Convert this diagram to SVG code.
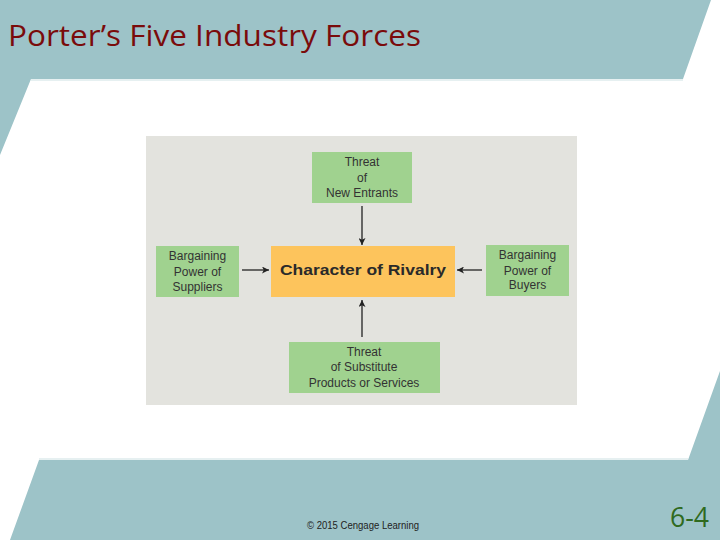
<svg xmlns="http://www.w3.org/2000/svg" width="720" height="540" viewBox="0 0 720 540">
<style>
.band{fill:#9dc3c8}
.node{fill:#a0d28f}
.lbl{font-family:"Liberation Sans",Arial,sans-serif;font-size:12px;fill:#333333;text-anchor:middle}
.conn{stroke:#222222;stroke-width:1.3;fill:none}
</style>
<defs>
<marker id="ah" viewBox="0 0 10 10" refX="10" refY="5" markerWidth="7" markerHeight="7" markerUnits="userSpaceOnUse" orient="auto">
<path d="M0,0 L10,5 L0,10 L2.5,5 z" fill="#222222"/>
</marker>
</defs>
<rect x="0" y="0" width="720" height="540" fill="#ffffff"/>
<polygon class="band" points="0,0 711,0 683,79 31,79 0,155"/>
<line x1="31" y1="80" x2="683" y2="80" stroke="#e6f0f1" stroke-width="2"/>
<polygon class="band" points="720,371 688,460 39,460 10,540 720,540"/>
<line x1="39" y1="459" x2="688" y2="459" stroke="#e6f0f1" stroke-width="2"/>
<text x="8" y="46" font-family="'Open Sans','Noto Sans',sans-serif" font-size="29" fill="#7a0b0b" textLength="413" lengthAdjust="spacingAndGlyphs">Porter’s Five Industry Forces</text>
<rect x="146" y="136" width="431" height="269" fill="#e3e3de"/>
<g id="new-entrants">
<rect class="node" x="312" y="152" width="100" height="51"/>
<text class="lbl" x="362" y="166">Threat</text>
<text class="lbl" x="362" y="181.5">of</text>
<text class="lbl" x="362" y="197">New Entrants</text>
</g>
<g id="suppliers">
<rect class="node" x="156" y="246" width="83" height="51"/>
<text class="lbl" x="197.5" y="260">Bargaining</text>
<text class="lbl" x="197.5" y="275.5">Power of</text>
<text class="lbl" x="197.5" y="291">Suppliers</text>
</g>
<g id="rivalry">
<rect x="271" y="246" width="184" height="51" fill="#fdc45c"/>
<text x="363" y="275" font-family="'Liberation Sans',Arial,sans-serif" font-size="15" font-weight="bold" fill="#2a2a2a" text-anchor="middle" textLength="166" lengthAdjust="spacingAndGlyphs">Character of Rivalry</text>
</g>
<g id="buyers">
<rect class="node" x="486" y="245" width="83" height="51"/>
<text class="lbl" x="527.5" y="259">Bargaining</text>
<text class="lbl" x="527.5" y="274.5">Power of</text>
<text class="lbl" x="527.5" y="289">Buyers</text>
</g>
<g id="substitutes">
<rect class="node" x="289" y="342" width="151" height="51"/>
<text class="lbl" x="364" y="355.5">Threat</text>
<text class="lbl" x="364" y="371">of Substitute</text>
<text class="lbl" x="364" y="386.5">Products or Services</text>
</g>
<g id="connectors">
<line class="conn" x1="362" y1="206" x2="362" y2="245" marker-end="url(#ah)"/>
<line class="conn" x1="362" y1="337" x2="362" y2="300" marker-end="url(#ah)"/>
<line class="conn" x1="242" y1="270" x2="269" y2="270" marker-end="url(#ah)"/>
<line class="conn" x1="482" y1="270" x2="457" y2="270" marker-end="url(#ah)"/>
</g>
<text x="363" y="529" font-family="'Liberation Sans',Arial,sans-serif" font-size="10" fill="#222222" text-anchor="middle" textLength="112" lengthAdjust="spacingAndGlyphs">© 2015 Cengage Learning</text>
<text x="670" y="527" font-family="'Open Sans','Noto Sans',sans-serif" font-size="28" fill="#2f6a1e" textLength="39" lengthAdjust="spacingAndGlyphs">6-4</text>
</svg>
